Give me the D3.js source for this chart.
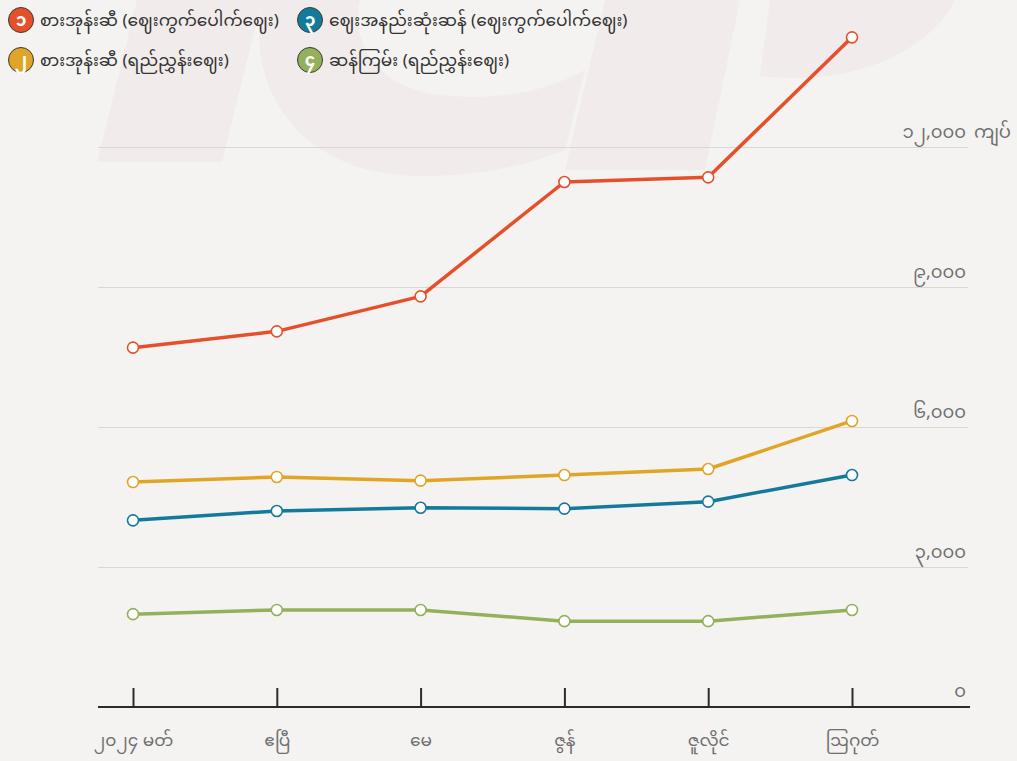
<!DOCTYPE html>
<html>
<head>
<meta charset="utf-8">
<script src="https://cdn.jsdelivr.net/npm/d3@7"></script>
<style>
  html, body { margin: 0; padding: 0; background: #f4f3f1; }
  svg { display: block; }
  text { font-family: "Noto Sans Myanmar", "Padauk", "Myanmar Text", "Noto Sans", sans-serif; }
</style>
</head>
<body>
<svg id="chart" width="1017" height="761"></svg>
<script>
const months = ["၂၀၂၄ မတ်", "ဧပြီ", "မေ", "ဇွန်", "ဇူလိုင်", "ဩဂုတ်"];
const seriesNames = [
  "စားအုန်းဆီ (ဈေးကွက်ပေါက်ဈေး)",
  "ဈေးအနည်းဆုံးဆန် (ဈေးကွက်ပေါက်ဈေး)",
  "စားအုန်းဆီ (ရည်ညွှန်းဈေး)",
  "ဆန်ကြမ်း (ရည်ညွှန်းဈေး)"
];
const legendNumbers = ["၁", "၃", "၂", "၄"];
const palmOilMarket = [7700, 8050, 8800, 11250, 11350, 14350];
const riceMarket = [4000, 4200, 4270, 4250, 4400, 4970];
const palmOilRef = [4820, 4930, 4850, 4970, 5100, 6130];
const riceRef = [1990, 2080, 2080, 1840, 1840, 2080];
const yTicks = [3000, 6000, 9000, 12000];
const unitLabel = "ကျပ်";
const colors = ["#e5502b", "#147a9c", "#e0a526", "#94b05a"];

const svg = d3.select("#chart");

// faint watermark
const wm = svg.append("g").attr("fill", "#f1ebeb");
wm.append("path").attr("d", "M97,162 L222,162 L262,0 L137,0 Z");
wm.append("path").attr("d", "M262,0 C245,90 300,175 420,176 C480,176 530,165 565,150 L585,70 C540,95 490,100 440,95 C375,88 350,40 360,0 Z");
wm.append("path").attr("d", "M565,170 L705,170 L740,0 L605,0 Z");
wm.append("path").attr("d", "M770,0 L955,0 C930,50 860,80 790,78 L760,76 Z");

const x = d3.scalePoint().domain(months).range([133, 852]);
const y = d3.scaleLinear().domain([0, 12000]).range([707, 147]);

const toMy = s => s.replace(/[0-9]/g, d => "၀၁၂၃၄၅၆၇၈၉"[+d]);
const fmt = d3.format(",");

// y grid + labels
const yAxis = d3.axisLeft(y).tickValues(yTicks).tickSize(870)
  .tickFormat(d => toMy(fmt(d)));
const yg = svg.append("g").attr("transform", "translate(968,0)").call(yAxis);
yg.select(".domain").remove();
yg.selectAll(".tick line").attr("stroke", "#d9d7d4").attr("stroke-width", 1);
yg.selectAll(".tick text").attr("x", -2).attr("dy", "-0.55em")
  .attr("text-anchor", "end").attr("fill", "#6f6f6f").attr("font-size", 18);
yg.selectAll(".tick").filter(d => d === 12000).append("text")
  .attr("x", 6).attr("dy", "-0.55em").attr("fill", "#6f6f6f")
  .attr("font-size", 18).attr("text-anchor", "start").text(unitLabel);
svg.append("text").attr("x", 966).attr("y", y(0)).attr("dy", "-0.55em")
  .attr("text-anchor", "end").attr("fill", "#6f6f6f").attr("font-size", 18)
  .text(toMy("0"));

// x axis
const xAxis = d3.axisBottom(x).tickSize(-19).tickPadding(27).tickSizeOuter(0);
const xg = svg.append("g").attr("transform", `translate(0,${y(0)})`).call(xAxis);
xg.select(".domain").attr("d", `M98,0 H970`).attr("stroke", "#2b2b2b").attr("stroke-width", 2.2);
xg.selectAll(".tick line").attr("stroke", "#2b2b2b").attr("stroke-width", 2);
xg.selectAll(".tick text").attr("fill", "#6f6f6f").attr("font-size", 17);

// lines
const data = [palmOilMarket, riceMarket, palmOilRef, riceRef];
const drawOrder = [3, 1, 2, 0];
const line = d3.line().x((d, i) => x(months[i])).y(d => y(d));
drawOrder.forEach(k => {
  const g = svg.append("g");
  g.append("path").datum(data[k]).attr("d", line).attr("fill", "none")
    .attr("stroke", colors[k]).attr("stroke-width", 3.5).attr("stroke-linejoin", "round");
  g.selectAll("circle").data(data[k]).join("circle")
    .attr("cx", (d, i) => x(months[i])).attr("cy", d => y(d)).attr("r", 5.5)
    .attr("fill", "#ffffff").attr("stroke", colors[k]).attr("stroke-width", 1.6);
});

// legend
const legendPos = [[21, 20], [310, 20], [21, 60], [310, 60]];
const legendSeries = [0, 1, 2, 3];
const lg = svg.append("g");
legendSeries.forEach((k, i) => {
  const [cx, cy] = legendPos[i];
  lg.append("circle").attr("cx", cx).attr("cy", cy).attr("r", 12.5)
    .attr("fill", colors[k]).attr("stroke", "#3a3a3a").attr("stroke-width", 1);
  lg.append("text").attr("x", cx).attr("y", cy).attr("dy", "0.33em")
    .attr("text-anchor", "middle").attr("fill", "#fff").attr("font-size", 17)
    .attr("font-weight", "bold").text(legendNumbers[i]);
  lg.append("text").attr("x", cx + 19).attr("y", cy).attr("dy", "0.35em")
    .attr("fill", "#333").attr("font-size", 17).text(seriesNames[k]);
});
</script>
</body>
</html>
